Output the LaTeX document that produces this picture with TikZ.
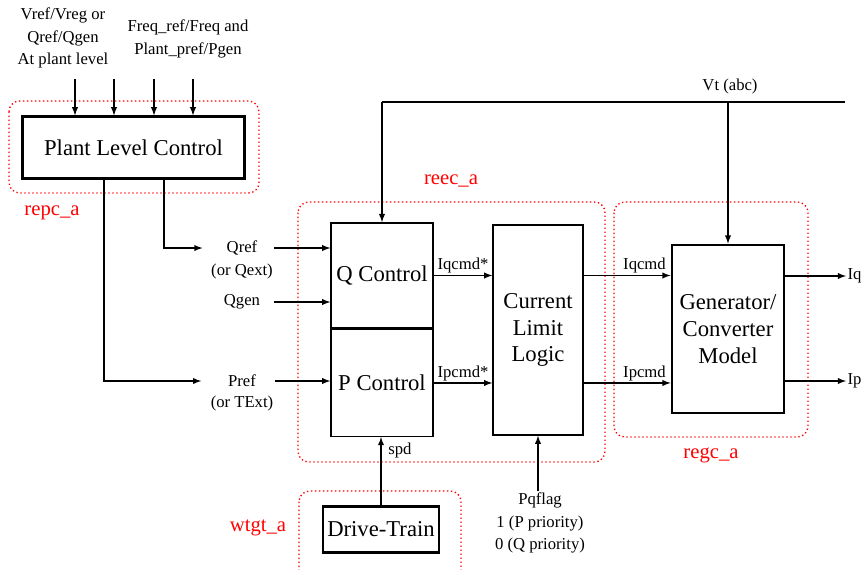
\documentclass[tikz,border=0pt]{standalone}
\usepackage{fontspec}
\setmainfont{Liberation Serif}
\usetikzlibrary{arrows,positioning,calc}

\begin{document}
\begin{tikzpicture}[
    x=0.75pt, y=-0.75pt, >=latex,
    block/.style={rectangle, draw=black, line width=1.1pt, fill=white, align=center, inner sep=0pt, font=\fontsize{17}{20}\selectfont},
    bigblock/.style={block, line width=2.2pt},
    region/.style={draw=red, dotted, line width=1pt, rounded corners=8pt},
    tag/.style={text=red, font=\fontsize{15.5}{18}\selectfont},
    sig/.style={inner sep=1pt, align=center, font=\fontsize{12.5}{16.8}\selectfont},
    flow/.style={->, line width=1.1pt}
]
\useasboundingbox (0,0) rectangle (863,569);

% Dotted regions
\draw[region] (9,101) rectangle (259,193);
\draw[region] (298,202) rectangle (605,462);
\draw[region] (614,202) rectangle (808,437);
\draw[region] (299,491) rectangle (461,600);

\node[tag] (repc) at (52,213) {repc\_a};
\node[tag] (reec) at (451,181) {reec\_a};
\node[tag] (regc) at (711,455) {regc\_a};
\node[tag] (wtgt) at (258,528) {wtgt\_a};

% Blocks
\node[bigblock, minimum width=167pt, minimum height=46pt] (plc) at (133.5,147.5) {Plant Level Control};
\node[block, minimum width=76.5pt, minimum height=79pt] (qctl) at (382,275.5) {Q Control};
\node[block, minimum width=76.5pt, minimum height=80pt, below=0pt of qctl] (pctl) {P Control};
\node[block, minimum width=67.5pt, minimum height=157.5pt] (cll) at (538,330) {Current\\Limit\\Logic};
\node[bigblock, minimum width=84pt, minimum height=126pt] (gen) at (728,329) {Generator/\\Converter\\Model};
\node[bigblock, minimum width=87pt, minimum height=34pt] (dt) at (381,529.5) {Drive-Train};

% Plant level inputs
\node[sig] (vin) at (63,38) {Vref/Vreg or\\Qref/Qgen\\At plant level};
\node[sig] (fin) at (188,39) {Freq\_ref/Freq and\\Plant\_pref/Pgen};
\foreach \x in {75,114,154,193}
    \draw[flow] (\x,79) -- (\x,79 |- plc.north);

% Signals into Q/P control
\node[sig] (qref) at (242,248) {Qref};
\node[sig] (qext) at (242,271) {(or Qext)};
\node[sig] (qgen) at (242,302) {Qgen};
\node[sig] (pref) at (242,381) {Pref};
\node[sig] (ptext) at (242,403) {(or TExt)};

\draw[flow] (plc.south -| 164,0) |- ([xshift=-17pt]qref.west);
\draw[flow] (plc.south -| 104,0) |- ([xshift=-19pt]pref.west);
\draw[flow] (qext.east |- qref) -- (qctl.west |- qref);
\draw[flow] (qext.east |- qgen) -- (qctl.west |- qgen);
\draw[flow] (ptext.east |- pref) -- (pctl.west |- pref);

% Terminal voltage
\coordinate (vtl) at (qctl.north |- 0,102);
\coordinate (vtr) at (845,102);
\draw[line width=1.1pt] (vtl) -- (vtr);
\node[sig] (vt) at (730,86) {Vt (abc)};
\draw[flow] (vtl) -- (qctl.north);
\draw[flow] (gen.north |- vtl) -- (gen.north);

% Current commands
\draw[flow] (qctl.east) -- (qctl.east -| cll.west) node[sig, midway, above] {Iqcmd*};
\draw[flow] (pctl.east) -- (pctl.east -| cll.west) node[sig, midway, above] {Ipcmd*};
\draw[flow] (cll.east |- qctl.east) -- (gen.west |- qctl.east) node[sig, pos=0.7, above] {Iqcmd};
\draw[flow] (cll.east |- pctl.east) -- (gen.west |- pctl.east) node[sig, pos=0.7, above] {Ipcmd};

% Outputs
\node[sig, anchor=west] (iq) at (846,276) {Iq};
\node[sig, anchor=west] (ip) at (846,381) {Ip};
\draw[flow] (gen.east |- iq) -- (iq.west);
\draw[flow] (gen.east |- ip) -- (ip.west);

% Speed and priority flag
\draw[flow] (dt.north) -- (dt.north |- pctl.south) node[sig, pos=0.8, right=4pt] {spd};
\node[sig] (pq) at (540,523) {Pqflag\\1 (P priority)\\0 (Q priority)};
\draw[flow] (cll.south |- pq.north) -- (cll.south);

\end{tikzpicture}
\end{document}
